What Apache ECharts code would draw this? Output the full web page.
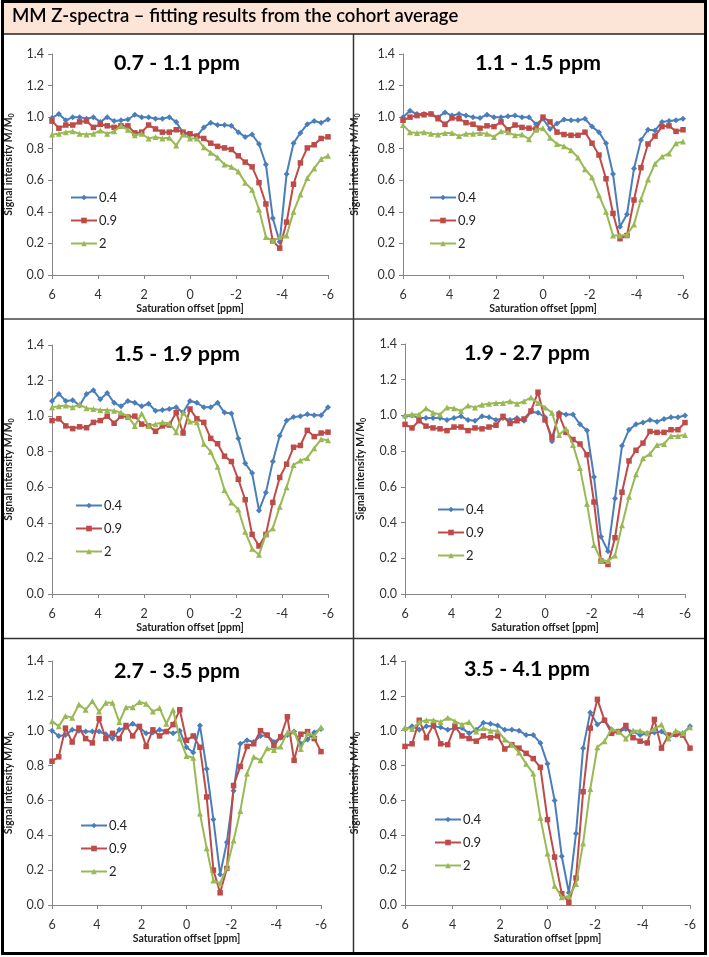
<!DOCTYPE html>
<html>
<head>
<meta charset="utf-8">
<script src="https://cdn.jsdelivr.net/npm/echarts@6/dist/echarts.min.js"></script>
<style>
html,body{margin:0;padding:0;background:#fff;}
#c{width:709px;height:957px;}
</style>
</head>
<body>
<div id="c"></div>
<script>
const offsets = [6, 5.7, 5.4, 5.1, 4.8, 4.5, 4.2, 3.9, 3.6, 3.3, 3.0, 2.7, 2.4, 2.1, 1.8, 1.5, 1.2, 0.9, 0.6, 0.3, 0, -0.3, -0.6, -0.9, -1.2, -1.5, -1.8, -2.1, -2.4, -2.7, -3.0, -3.3, -3.6, -3.9, -4.2, -4.5, -4.8, -5.1, -5.4, -5.7, -6];
const seriesNames = ['0.4', '0.9', '2'];
const panelTitles = ['0.7 - 1.1 ppm', '1.1 - 1.5 ppm', '1.5 - 1.9 ppm', '1.9 - 2.7 ppm', '2.7 - 3.5 ppm', '3.5 - 4.1 ppm'];
const xTicks = [6, 4, 2, 0, -2, -4, -6];
const yTicks = [0.0, 0.2, 0.4, 0.6, 0.8, 1.0, 1.2, 1.4];

// Panel 1: 0.7 - 1.1 ppm
const p1_b04 = [0.995, 1.02, 0.98, 1.0, 1.0, 0.99, 1.0, 0.97, 1.0, 0.975, 0.98, 0.985, 1.015, 1.0, 1.0, 0.99, 0.99, 1.0, 0.97, 0.9, 0.89, 0.88, 0.935, 0.965, 0.95, 0.95, 0.945, 0.905, 0.875, 0.89, 0.83, 0.70, 0.36, 0.21, 0.64, 0.835, 0.9, 0.955, 0.975, 0.965, 0.985];
const p1_r09 = [0.975, 0.93, 0.95, 0.95, 0.97, 0.975, 0.935, 0.955, 0.945, 0.935, 0.945, 0.945, 0.9, 0.905, 0.95, 0.925, 0.905, 0.905, 0.92, 0.905, 0.895, 0.88, 0.865, 0.835, 0.815, 0.805, 0.795, 0.755, 0.715, 0.685, 0.585, 0.45, 0.215, 0.17, 0.335, 0.575, 0.71, 0.805, 0.825, 0.865, 0.875];
const p1_g2 = [0.89, 0.895, 0.905, 0.91, 0.895, 0.89, 0.895, 0.915, 0.895, 0.91, 0.945, 0.92, 0.885, 0.895, 0.865, 0.875, 0.865, 0.87, 0.82, 0.89, 0.865, 0.865, 0.81, 0.775, 0.745, 0.70, 0.685, 0.655, 0.585, 0.54, 0.415, 0.24, 0.215, 0.24, 0.25, 0.40, 0.51, 0.615, 0.675, 0.735, 0.755];
// Panel 2: 1.1 - 1.5 ppm
const p2_b04 = [1.0, 1.04, 1.02, 1.02, 1.02, 1.0, 1.03, 1.01, 1.02, 1.01, 1.0, 0.995, 1.015, 1.0, 1.0, 1.005, 1.01, 1.0, 1.0, 0.955, 0.99, 0.925, 0.96, 0.985, 0.98, 0.98, 0.99, 0.94, 0.905, 0.835, 0.64, 0.305, 0.385, 0.675, 0.855, 0.92, 0.915, 0.97, 0.975, 0.98, 0.99];
const p2_r09 = [0.98, 1.0, 1.01, 1.015, 1.02, 0.99, 0.955, 0.995, 0.99, 0.965, 0.955, 0.93, 0.945, 0.94, 0.97, 0.92, 0.95, 0.935, 0.93, 0.925, 1.0, 0.97, 0.905, 0.89, 0.885, 0.885, 0.905, 0.835, 0.76, 0.61, 0.39, 0.23, 0.25, 0.475, 0.68, 0.83, 0.88, 0.94, 0.945, 0.91, 0.92];
const p2_g2 = [0.95, 0.905, 0.9, 0.905, 0.895, 0.89, 0.9, 0.9, 0.88, 0.895, 0.895, 0.9, 0.895, 0.875, 0.91, 0.905, 0.885, 0.89, 0.86, 0.92, 0.93, 0.87, 0.83, 0.815, 0.79, 0.745, 0.67, 0.62, 0.505, 0.40, 0.25, 0.25, 0.255, 0.32, 0.48, 0.605, 0.705, 0.75, 0.77, 0.835, 0.845];
// Panel 3: 1.5 - 1.9 ppm
const p3_b04 = [1.085, 1.125, 1.085, 1.09, 1.06, 1.125, 1.145, 1.095, 1.13, 1.075, 1.055, 1.085, 1.075, 1.055, 1.07, 1.03, 1.035, 1.04, 1.05, 1.02, 1.085, 1.075, 1.05, 1.05, 1.075, 1.02, 1.015, 0.875, 0.735, 0.68, 0.47, 0.57, 0.745, 0.89, 0.975, 0.995, 1.0, 1.01, 1.005, 1.005, 1.05];
const p3_r09 = [0.975, 0.985, 0.945, 0.93, 0.94, 0.935, 0.965, 0.975, 1.0, 0.96, 1.0, 0.995, 1.0, 0.955, 0.945, 0.915, 0.945, 0.95, 1.02, 0.905, 1.04, 0.985, 0.965, 0.875, 0.845, 0.775, 0.745, 0.645, 0.53, 0.335, 0.27, 0.335, 0.515, 0.655, 0.73, 0.825, 0.835, 0.92, 0.885, 0.905, 0.91];
const p3_g2 = [1.05, 1.055, 1.06, 1.05, 1.065, 1.045, 1.04, 1.035, 1.035, 1.03, 1.02, 1.0, 0.945, 1.015, 0.945, 0.955, 0.965, 0.96, 0.91, 1.02, 0.97, 0.965, 0.845, 0.8, 0.715, 0.585, 0.515, 0.475, 0.35, 0.255, 0.22, 0.335, 0.37, 0.49, 0.6, 0.725, 0.75, 0.765, 0.82, 0.87, 0.865];
// Panel 4: 1.9 - 2.7 ppm
const p4_b04 = [0.995, 1.0, 0.985, 0.985, 0.985, 0.985, 0.975, 0.985, 0.995, 0.975, 0.97, 0.995, 0.99, 0.975, 0.985, 0.975, 0.985, 0.97, 1.02, 1.015, 0.99, 0.855, 1.015, 1.005, 1.005, 0.95, 0.915, 0.655, 0.32, 0.24, 0.535, 0.83, 0.92, 0.95, 0.96, 0.975, 0.965, 0.98, 0.99, 0.99, 1.0];
const p4_r09 = [0.95, 0.93, 0.97, 0.94, 0.93, 0.925, 0.915, 0.935, 0.935, 0.915, 0.93, 0.925, 0.935, 0.945, 0.995, 0.955, 0.97, 0.98, 1.025, 1.13, 0.975, 0.875, 1.005, 0.905, 0.865, 0.84, 0.78, 0.515, 0.185, 0.165, 0.315, 0.57, 0.745, 0.805, 0.845, 0.91, 0.905, 0.905, 0.92, 0.92, 0.96];
const p4_g2 = [1.0, 1.005, 1.005, 1.04, 1.015, 1.005, 1.045, 1.04, 1.025, 1.055, 1.045, 1.06, 1.065, 1.07, 1.07, 1.08, 1.065, 1.08, 1.1, 1.07, 1.045, 1.015, 0.89, 0.925, 0.835, 0.705, 0.505, 0.275, 0.19, 0.185, 0.215, 0.385, 0.545, 0.67, 0.76, 0.785, 0.835, 0.84, 0.885, 0.885, 0.89];
// Panel 5: 2.7 - 3.5 ppm
const p5_b04 = [1.0, 0.97, 0.975, 1.005, 1.0, 0.995, 0.995, 0.995, 0.98, 0.955, 1.005, 1.02, 1.04, 1.02, 0.985, 0.99, 1.005, 0.995, 0.985, 1.0, 0.905, 0.875, 1.03, 0.78, 0.49, 0.175, 0.36, 0.655, 0.925, 0.945, 0.935, 0.97, 0.975, 0.935, 0.96, 0.975, 0.995, 0.925, 0.95, 0.99, 1.01];
const p5_r09 = [0.825, 0.85, 1.015, 0.935, 1.015, 0.955, 0.93, 1.07, 0.955, 0.985, 0.955, 1.03, 0.97, 1.025, 0.91, 1.005, 0.97, 0.995, 1.035, 1.12, 0.945, 0.97, 0.905, 0.62, 0.2, 0.07, 0.21, 0.685, 0.795, 0.91, 0.925, 1.0, 0.975, 0.915, 0.965, 1.08, 0.83, 0.98, 0.995, 0.955, 0.88];
const p5_g2 = [1.055, 1.025, 1.085, 1.075, 1.15, 1.12, 1.17, 1.11, 1.16, 1.16, 1.05, 1.135, 1.135, 1.165, 1.155, 1.11, 1.13, 1.04, 1.12, 0.955, 0.855, 0.845, 0.525, 0.325, 0.14, 0.125, 0.215, 0.37, 0.54, 0.755, 0.85, 0.83, 0.9, 0.89, 0.91, 0.99, 0.995, 0.895, 0.985, 0.97, 1.02];
// Panel 6: 3.5 - 4.1 ppm
const p6_b04 = [1.01, 1.025, 1.005, 1.025, 1.025, 1.02, 1.005, 1.015, 1.015, 0.985, 1.005, 1.045, 1.04, 1.03, 1.005, 1.005, 1.0, 0.975, 0.975, 0.93, 0.81, 0.6, 0.28, 0.07, 0.41, 0.9, 1.105, 1.035, 1.06, 1.005, 0.995, 1.01, 0.995, 0.975, 0.985, 0.99, 0.995, 0.965, 0.975, 0.985, 1.025];
const p6_r09 = [0.91, 0.925, 1.06, 0.96, 1.035, 0.925, 0.92, 1.025, 0.97, 0.955, 0.94, 0.97, 0.96, 0.97, 0.895, 0.92, 0.9, 0.87, 0.84, 0.79, 0.49, 0.275, 0.065, 0.015, 0.155, 0.65, 1.015, 1.18, 1.06, 0.985, 0.995, 1.03, 0.96, 0.94, 0.93, 1.065, 0.9, 0.975, 0.98, 0.975, 0.9];
const p6_g2 = [1.015, 1.01, 1.05, 1.06, 1.06, 1.05, 1.075, 1.055, 1.035, 1.05, 0.995, 1.015, 1.0, 1.0, 0.95, 0.92, 0.875, 0.81, 0.755, 0.5, 0.295, 0.11, 0.045, 0.05, 0.12, 0.355, 0.665, 0.905, 0.94, 1.01, 0.995, 0.955, 1.0, 1.0, 0.985, 1.01, 1.035, 0.955, 1.0, 0.985, 1.02];

const panelData = [
  [p1_b04, p1_r09, p1_g2],
  [p2_b04, p2_r09, p2_g2],
  [p3_b04, p3_r09, p3_g2],
  [p4_b04, p4_r09, p4_g2],
  [p5_b04, p5_r09, p5_g2],
  [p6_b04, p6_r09, p6_g2]
];

const colors = ['#4A7EBB', '#BE4B48', '#98B954'];
const symbols = ['diamond', 'rect', 'triangle'];
const symbolSizes = [6, 5.5, 6];

// layout (pixels)
const grids = [
  {left: 52, right: 381, top: 54, bottom: 682},
  {left: 403, right: 26, top: 54, bottom: 682},
  {left: 52, right: 381, top: 345, bottom: 363},
  {left: 405, right: 24, top: 344, bottom: 363},
  {left: 52, right: 388, top: 661, bottom: 52},
  {left: 405, right: 19, top: 661, bottom: 52}
];
const yNameGaps = [37, 42, 37, 38, 37, 44];
const titlePos = [[172, 47], [533, 47], [172, 338], [522, 337], [172, 655], [522, 653]];
const legendPos = [[65, 186], [424, 186], [70, 494], [432, 498], [75, 814], [429, 808]];

const FONT = 'Lato, "Open Sans", sans-serif';

const option = {
  backgroundColor: '#fff',
  animation: false,
  title: [],
  grid: [],
  xAxis: [],
  yAxis: [],
  legend: [],
  series: [],
  graphic: [
    {type: 'rect', shape: {x: 3, y: 2, width: 702, height: 32}, style: {fill: '#FCE4D6', stroke: null}, z: 0},
    {type: 'text', left: 12, top: 7, style: {text: 'MM Z-spectra \u2013 fitting results from the cohort average', font: '600 18.5px ' + FONT, fill: '#000'}},
    {type: 'line', shape: {x1: 3, y1: 34, x2: 705, y2: 34}, style: {stroke: '#222', lineWidth: 1.5}},
    {type: 'line', shape: {x1: 353.5, y1: 34, x2: 353.5, y2: 952}, style: {stroke: '#333', lineWidth: 1.5}},
    {type: 'line', shape: {x1: 3, y1: 319, x2: 705, y2: 319}, style: {stroke: '#444', lineWidth: 1.5}},
    {type: 'line', shape: {x1: 3, y1: 638.5, x2: 705, y2: 638.5}, style: {stroke: '#333', lineWidth: 1.5}},
    {type: 'rect', shape: {x: 2.5, y: 1.5, width: 703, height: 952}, style: {fill: null, stroke: '#000', lineWidth: 3}, z: 100}
  ]
};

for (let p = 0; p < 6; p++) {
  option.grid.push(Object.assign({containLabel: false}, grids[p]));
  option.title.push({
    text: panelTitles[p],
    left: titlePos[p][0], top: titlePos[p][1],
    textAlign: 'center',
    textStyle: {fontFamily: FONT, fontWeight: 'bold', fontSize: 21.5, color: '#000'}
  });
  option.xAxis.push({
    type: 'value', gridIndex: p, inverse: true,
    min: -6, max: 6, interval: 2,
    name: 'Saturation offset [ppm]', nameLocation: 'middle', nameGap: 28,
    nameTextStyle: {fontFamily: FONT, fontWeight: 'bold', fontSize: 10.5, color: '#222'},
    axisLine: {show: true, onZero: false, lineStyle: {color: '#868686', width: 1}},
    axisTick: {show: true, length: 4, lineStyle: {color: '#868686'}},
    axisLabel: {fontFamily: FONT, fontSize: 12.5, color: '#333', margin: 13,
      formatter: v => (xTicks.indexOf(v) >= 0 ? String(v) : '')},
    splitLine: {show: false}
  });
  option.yAxis.push({
    type: 'value', gridIndex: p,
    min: 0, max: 1.4, interval: 0.2,
    name: 'Signal intensity M/M{s|0}', nameLocation: 'middle', nameGap: yNameGaps[p],
    nameTextStyle: {fontFamily: FONT, fontWeight: 'bold', fontSize: 10.5, color: '#222',
      rich: {s: {fontFamily: FONT, fontWeight: 'bold', fontSize: 7, color: '#222', verticalAlign: 'bottom', padding: [6, 0, 0, 0]}}},
    axisLine: {show: true, onZero: false, lineStyle: {color: '#868686', width: 1}},
    axisTick: {show: true, length: 4, lineStyle: {color: '#868686'}},
    axisLabel: {fontFamily: FONT, fontSize: 12.5, color: '#333', margin: 8,
      formatter: v => yTicks.find(t => Math.abs(t - v) < 1e-6).toFixed(1)},
    splitLine: {show: false}
  });
  option.legend.push({
    orient: 'vertical', left: legendPos[p][0], top: legendPos[p][1],
    itemWidth: 26, itemHeight: 7, itemGap: 10,
    data: seriesNames,
    textStyle: {fontFamily: FONT, fontSize: 13, color: '#222', padding: [0, 0, 0, -3]},
    selectedMode: false
  });
  for (let s = 0; s < 3; s++) {
    option.series.push({
      type: 'line', name: seriesNames[s],
      xAxisIndex: p, yAxisIndex: p,
      data: offsets.map((x, i) => [x, panelData[p][s][i]]),
      symbol: symbols[s], symbolSize: symbolSizes[s], showSymbol: true,
      lineStyle: {color: colors[s], width: 2},
      itemStyle: {color: colors[s]},
      z: 2 + s
    });
  }
}

const chart = echarts.init(document.getElementById('c'), null, {renderer: 'canvas'});
chart.setOption(option);
</script>
</body>
</html>
